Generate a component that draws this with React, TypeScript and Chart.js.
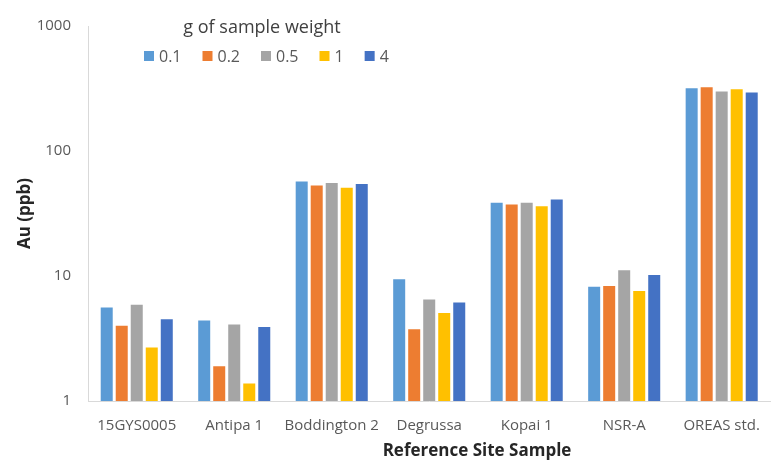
import React, { useEffect, useRef } from "react";
import { Chart, registerables } from "chart.js";

Chart.register(...registerables);

const categories = ["15GYS0005", "Antipa 1", "Boddington 2", "Degrussa", "Kopai 1", "NSR-A", "OREAS std."];
const seriesLabels = ["0.1", "0.2", "0.5", "1", "4"];
const s01 = [5.6, 4.4, 57, 9.4, 38.5, 8.2, 318];
const s02 = [4.0, 1.9, 53, 3.75, 37.4, 8.3, 323];
const s05 = [5.9, 4.1, 55.5, 6.5, 38.5, 11.1, 299];
const s1 = [2.68, 1.38, 50.7, 5.05, 36.2, 7.6, 312];
const s4 = [4.5, 3.9, 54.5, 6.15, 41, 10.2, 294];
const seriesValues = [s01, s02, s05, s1, s4];
const yTicks = [1, 10, 100, 1000];
const colors = ["#5B9BD5", "#ED7D31", "#A5A5A5", "#FFC000", "#4472C4"];
const legendTitle = "g of sample weight";
const xTitle = "Reference Site Sample";
const yTitle = "Au (ppb)";

const FAMILY = "'Open Sans', sans-serif";

const overlayPlugin = {
  id: "overlay",
  afterDraw(chart: any) {
    const ctx = chart.ctx;
    ctx.save();
    ctx.textBaseline = "alphabetic";
    ctx.fillStyle = "#404040";
    ctx.font = `18px ${FAMILY}`;
    ctx.textAlign = "center";
    ctx.fillText(legendTitle, 262, 33);

    ctx.font = `16px ${FAMILY}`;
    ctx.textAlign = "left";
    let x = 144;
    chart.data.datasets.forEach((ds: any) => {
      ctx.fillStyle = ds.backgroundColor;
      ctx.fillRect(x, 51, 10, 10);
      x += 15;
      ctx.fillStyle = "#595959";
      ctx.fillText(ds.label, x, 62);
      x += ctx.measureText(ds.label).width + 21;
    });

    ctx.font = `bold 17px ${FAMILY}`;
    ctx.textAlign = "center";
    ctx.fillStyle = "#262626";
    ctx.fillText(xTitle, 477, 456);
    ctx.restore();
  },
};

export default function App() {
  const ref = useRef<HTMLCanvasElement | null>(null);

  useEffect(() => {
    if (!ref.current) return;
    const chart = new Chart(ref.current, {
      type: "bar",
      data: {
        labels: categories,
        datasets: seriesLabels.map((label, i) => ({
          label,
          data: seriesValues[i],
          backgroundColor: colors[i],
          borderWidth: 0,
          categoryPercentage: 0.77,
          barPercentage: 0.8,
        })),
      },
      options: {
        animation: false,
        responsive: true,
        maintainAspectRatio: false,
        layout: { padding: { top: 21, right: 1, left: 0, bottom: 0 } },
        plugins: {
          legend: { display: false },
          tooltip: { enabled: false },
        },
        scales: {
          x: {
            grid: { display: false, drawTicks: false },
            border: { display: true, color: "#d9d9d9", width: 1 },
            ticks: {
              padding: 16,
              color: "#595959",
              font: { size: 15, family: FAMILY },
              maxRotation: 0,
              autoSkip: false,
            },
            afterFit: (scale: any) => {
              scale.height = 61;
            },
          },
          y: {
            type: "logarithmic",
            min: 1,
            max: 1000,
            afterBuildTicks: (scale: any) => {
              scale.ticks = yTicks.map((v) => ({ value: v }));
            },
            afterFit: (scale: any) => {
              scale.width = 88;
            },
            grid: { display: false, drawTicks: false },
            border: { display: true, color: "#d9d9d9", width: 1 },
            ticks: {
              padding: 17,
              color: "#595959",
              font: { size: 15, family: FAMILY },
              callback: (v: any) => String(v),
            },
            title: {
              display: true,
              text: yTitle,
              color: "#262626",
              font: { size: 17, weight: "bold", family: FAMILY },
              padding: { top: 15, bottom: 0 },
            },
          },
        },
      },
      plugins: [overlayPlugin],
    } as any);
    return () => chart.destroy();
  }, []);

  return (
    <div style={{ position: "fixed", left: 0, top: 0, width: 776, height: 462, background: "#fff" }}>
      <canvas ref={ref} />
    </div>
  );
}
